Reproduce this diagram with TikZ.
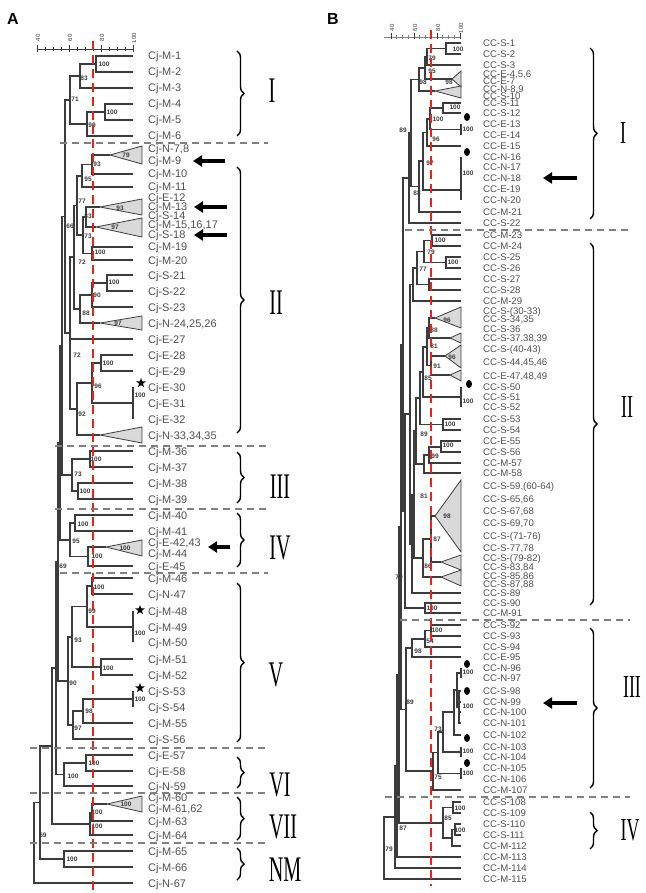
\documentclass[tikz,border=0pt]{standalone}
\usepackage{fontspec}
\setmainfont{Liberation Sans}
\newfontfamily\romanfont{Liberation Serif}
\usetikzlibrary{arrows.meta,decorations.pathreplacing,shapes.geometric}
\definecolor{branch}{HTML}{3C3C3C}
\definecolor{leafgray}{HTML}{505050}
\definecolor{cutred}{HTML}{E8231C}
\definecolor{sepgray}{HTML}{808080}
\definecolor{trifill}{HTML}{D9D9D9}

\begin{document}
\begin{tikzpicture}[x=1pt,y=-1pt,
    br/.style={draw=branch, line width=1.1pt},
    tri/.style={fill=trifill, draw=branch, line width=0.8pt},
    leafA/.style={anchor=base west, inner sep=0pt, yshift=-4pt, text=leafgray, font=\fontsize{11}{11}\selectfont},
    leafB/.style={anchor=base west, inner sep=0pt, yshift=-3.4pt, text=leafgray, font=\fontsize{9.6}{9.6}\selectfont},
    boot/.style={inner sep=0pt, text=branch, font=\bfseries\fontsize{6.5}{6.5}\selectfont},
    cut/.style={draw=cutred, line width=1.7pt, dash pattern=on 9pt off 5pt},
    sep/.style={draw=sepgray, line width=2.6pt, dash pattern=on 7pt off 5pt},
    brc/.style={draw=black, line width=1.4pt, decorate, decoration={brace, amplitude=7pt}},
    numA/.style={inner sep=0pt, font=\romanfont\fontsize{36}{36}\selectfont},
    numB/.style={inner sep=0pt, font=\romanfont\fontsize{32}{32}\selectfont},
    bigarrow/.style={line width=3.2pt, -{Triangle[length=9pt,width=11pt]}},
    starmark/.style={star, star points=5, star point ratio=2.4, fill=black, minimum size=10pt, inner sep=0pt},
    dotmark/.style={ellipse, fill=black, minimum width=6pt, minimum height=8pt, inner sep=0pt},
    tick/.style={inner sep=0pt, rotate=90, font=\fontsize{6}{6}\selectfont, text=branch}]

    \useasboundingbox[fill=white] (0,0) rectangle (645,893);

    % panel letters
    \node[font=\bfseries\fontsize{16}{16}\selectfont] (pA) at (13,19) {A};
    \node[font=\bfseries\fontsize{16}{16}\selectfont] (pB) at (333,19) {B};

    % scale bars
    \foreach \v in {0,...,12}
        \draw[branch, line width=0.6pt] ({37+8*\v},47) -- ({37+8*\v},51);
    \draw[branch, line width=0.8pt] (37,49) -- (133,49);
    \foreach \v/\t in {0/40,1/60,2/80,3/100} {
        \draw[branch, line width=0.8pt] ({37+32*\v},45) -- ({37+32*\v},52);
        \node[tick] (tA\t) at ({38+32*\v},38) {\t};
    }
    \foreach \v in {0,...,12}
        \draw[sepgray, line width=0.6pt] ({391+5.75*\v},35) -- ({391+5.75*\v},39);
    \draw[sepgray, line width=0.8pt] (384,37) -- (461,37);
    \foreach \v/\t in {0/40,1/60,2/80,3/100} {
        \draw[branch, line width=0.8pt] ({391+23*\v},33) -- ({391+23*\v},39);
        \node[tick] (tB\t) at ({392+23*\v},28) {\t};
    }

    % ---------------- panel A ----------------
    \foreach \y/\t [count=\i] in {56/Cj-M-1, 72/Cj-M-2, 88/Cj-M-3, 104/Cj-M-4, 120/Cj-M-5, 136/Cj-M-6,
        149/{Cj-N-7,8}, 161/Cj-M-9, 174/Cj-M-10, 187/Cj-M-11, 198/Cj-E-12, 207/Cj-M-13, 215/Cj-S-14,
        225/{Cj-M-15,16,17}, 235/Cj-S-18, 247/Cj-M-19, 260/Cj-M-20, 275/Cj-S-21, 291/Cj-S-22, 307/Cj-S-23,
        323/{Cj-N-24,25,26}, 339/Cj-E-27, 355/Cj-E-28, 371/Cj-E-29, 387/Cj-E-30, 403/Cj-E-31, 419/Cj-E-32,
        435/{Cj-N-33,34,35}, 451/Cj-M-36, 467/Cj-M-37, 483/Cj-M-38, 499/Cj-M-39, 515/Cj-M-40, 531/Cj-M-41,
        542/{Cj-E-42,43}, 553/Cj-M-44, 566/Cj-E-45, 578/Cj-M-46, 594/Cj-N-47, 611/Cj-M-48, 627/Cj-M-49,
        642/Cj-M-50, 659/Cj-M-51, 675/Cj-M-52, 691/Cj-S-53, 707/Cj-S-54, 723/Cj-M-55, 739/Cj-S-56,
        755/Cj-E-57, 771/Cj-E-58, 786/Cj-N-59, 797/Cj-M-60, 808/{Cj-M-61,62}, 821/Cj-M-63, 835/Cj-M-64,
        851/Cj-M-65, 867/Cj-M-66, 883/Cj-N-67} {
        \node[leafA] (la\i) at (148,\y) {\t};
        \coordinate (ae\i) at (133,\y);
    }

    % inner nodes A
    \coordinate (a100a) at (96,64);    \coordinate (a83) at (80,76);
    \coordinate (a100b) at (105,112);  \coordinate (a99) at (87,124);
    \coordinate (a71) at (70,100);
    \coordinate (a93) at (92,164.5);   \coordinate (a95) at (82,176);
    \coordinate (a83b) at (86,217);    \coordinate (a100c) at (92,253.5);
    \coordinate (a73) at (83,235);     \coordinate (a77) at (77,205.5);
    \coordinate (a100d) at (107,283);  \coordinate (a90) at (92,295);
    \coordinate (a88) at (80,309);     \coordinate (a72a) at (74,257);
    \coordinate (a100e) at (101,363);  \coordinate (a100f) at (133,403);
    \coordinate (a96) at (92,383);     \coordinate (a92) at (77,409);
    \coordinate (a72b) at (70,333);    \coordinate (a66) at (65,216.5);
    \coordinate (a100g) at (90,459);   \coordinate (a100h) at (78,491);
    \coordinate (a73b) at (72,475);
    \coordinate (a100i) at (75,523);   \coordinate (a100j) at (88,556.5);
    \coordinate (a95b) at (70,540);
    \coordinate (a100k) at (92,586);   \coordinate (a100l) at (133,627);
    \coordinate (a99b) at (87,606.5);  \coordinate (a100m) at (101,667);
    \coordinate (a93b) at (72,637);    \coordinate (a100n) at (133,699);
    \coordinate (a98) at (83,711);     \coordinate (a97) at (73,725);
    \coordinate (a90b) at (68,681);
    \coordinate (a100o) at (86,763);   \coordinate (a100p) at (64,774.5);
    \coordinate (a100q) at (92,812.5); \coordinate (a100r) at (90,824);
    \coordinate (a100s) at (64,859);
    \coordinate (aL2) at (62,346);     \coordinate (aL3) at (60,443);
    \coordinate (aL4) at (58,562);     \coordinate (aL5) at (56,668);
    \coordinate (aL6) at (52,746);     \coordinate (aL7) at (40,802.5);
    \coordinate (aroot) at (34,843);

    % collapsed clades A
    \foreach \n/\ax/\ay/\ty/\by in {tA7/110/155/146/164, tA12/100/207/199/215, tA15/96/227/218/237,
        tA24/100/323/316/330, tA33/100/435/427/443, tA42/106/547/540/556, tA60/107/804/796/812} {
        \coordinate (\n) at (\ax,\ay);
        \filldraw[tri] (\n) -- (142,\ty) -- (142,\by) -- cycle;
    }

    \foreach \c/\p in {ae1/a100a, ae2/a100a, a100a/a83, ae3/a83, ae4/a100b, ae5/a100b, a100b/a99, ae6/a99,
        a83/a71, a99/a71, tA7/a93, ae9/a93, a93/a95, ae10/a95, tA12/a83b, tA15/a83b, ae16/a100c, ae17/a100c,
        a83b/a73, a100c/a73, a95/a77, a73/a77, ae18/a100d, ae19/a100d, a100d/a90, ae20/a90, a90/a88, tA24/a88,
        a77/a72a, a88/a72a, ae23/a100e, ae24/a100e, ae25/a100f, ae26/a100f, ae27/a100f, a100e/a96, a100f/a96,
        a96/a92, tA33/a92, a72a/a72b, ae22/a72b, a92/a72b, a71/a66, a72b/a66,
        ae29/a100g, ae30/a100g, ae31/a100h, ae32/a100h, a100g/a73b, a100h/a73b,
        ae33/a100i, ae34/a100i, tA42/a100j, ae37/a100j, a100i/a95b, a100j/a95b,
        ae38/a100k, ae39/a100k, ae40/a100l, ae41/a100l, ae42/a100l, a100k/a99b, a100l/a99b, ae43/a100m,
        ae44/a100m, a99b/a93b, a100m/a93b, ae45/a100n, ae46/a100n, a100n/a98, ae47/a98, a98/a97, ae48/a97,
        a93b/a90b, a97/a90b, ae49/a100o, ae50/a100o, a100o/a100p, ae51/a100p,
        tA60/a100q, ae54/a100q, a100q/a100r, ae55/a100r, ae56/a100s, ae57/a100s,
        a66/aL2, a73b/aL2, aL2/aL3, a95b/aL3, aL3/aL4, a90b/aL4, aL4/aL5, a100p/aL5, aL5/aL6, a100r/aL6,
        aL6/aL7, a100s/aL7, aL7/aroot, ae58/aroot}
        \draw[br] (\c) -| (\p);

    % bootstrap values A
    \foreach \x/\y/\t [count=\i] in {104/64/100, 84/78/83, 75/99/71, 112/112/100, 92/125/99, 126/155/79,
        97/164/93, 88/179/95, 82/201/77, 120/208/93, 88/216/83, 70/226/66, 115/227/97, 88/236/73,
        100/252/100, 82/262/72, 114/282/100, 97/295/90, 86/313/88, 118/323/97, 77/355/72, 108/363/100,
        98/386/96, 140/395/100, 82/414/92, 96/459/100, 78/474/73, 85/491/100, 83/524/100, 76/541/95,
        125/548/100, 97/556/100, 63/566/69, 99/587/100, 92/611/99, 140/633/100, 78/640/93, 108/668/100,
        73/683/90, 140/699/100, 89/711/98, 78/728/97, 94/763/100, 73/776/100, 126/804/100, 97/812/100,
        97/826/100, 43/835/69, 72/859/100}
        \node[boot] (bsA\i) at (\x,\y) {\t};

    % ---------------- panel B ----------------
    \foreach \y/\t [count=\i] in {43/CC-S-1, 54/CC-S-2, 65/CC-S-3, 74/{CC-E-4,5,6}, 81/CC-E-7, 89/{CC-N-8,9},
        96/CC-S-10, 103/CC-S-11, 113/CC-S-12, 124/CC-E-13, 135/CC-E-14, 146/CC-E-15, 157/CC-N-16,
        167/CC-N-17, 178/CC-N-18, 189/CC-E-19, 200/CC-N-20, 212/CC-M-21, 223/CC-S-22, 235/CC-M-23,
        246/CC-M-24, 257/CC-S-25, 268/CC-S-26, 279/CC-S-27, 290/CC-S-28, 301/CC-M-29, 311/{CC-S-(30-33)},
        319/{CC-S-34,35}, 329/CC-S-36, 338/{CC-S-37,38,39}, 349/{CC-S-(40-43)}, 362/{CC-S-44,45,46},
        376/{CC-E-47,48,49}, 387/CC-S-50, 397/CC-S-51, 407/CC-S-52, 419/CC-S-53, 430/CC-S-54, 441/CC-E-55,
        452/CC-S-56, 463/CC-M-57, 473/CC-M-58, 486/{CC-S-59,(60-64)}, 499/{CC-S-65,66}, 511/{CC-S-67,68},
        523/{CC-S-69,70}, 536/{CC-S-(71-76)}, 548/{CC-S-77,78}, 558/{CC-S-(79-82)}, 567/{CC-S-83,84},
        576/{CC-S-85,86}, 584/{CC-S-87,88}, 593/CC-S-89, 603/CC-S-90, 613/CC-M-91, 625/CC-S-92,
        636/CC-S-93, 647/CC-S-94, 657/CC-E-95, 668/CC-N-96, 678/CC-N-97, 691/CC-S-98, 702/CC-N-99,
        712/CC-N-100, 723/CC-N-101, 735/CC-N-102, 747/CC-N-103, 757/CC-N-104, 768/CC-N-105, 779/CC-N-106,
        790/CC-M-107, 802/CC-S-108, 813/CC-S-109, 824/CC-S-110, 835/CC-S-111, 846/CC-M-112, 857/CC-M-113,
        868/CC-M-114, 879/CC-M-115} {
        \node[leafB] (lb\i) at (483,\y) {\t};
        \coordinate (be\i) at (461,\y);
    }

    % inner nodes B
    \coordinate (b100a) at (446,48.5); \coordinate (b79) at (427,57);
    \coordinate (b95) at (425,68);     \coordinate (b98) at (419,79.5);
    \coordinate (b100b) at (443,108);  \coordinate (b100c) at (461,129.5);
    \coordinate (b100d) at (430,119);  \coordinate (b96) at (427,132.5);
    \coordinate (b100e) at (461,190);  \coordinate (b97) at (423,161);
    \coordinate (b88) at (419,186.5);  \coordinate (b89) at (411,133);
    \coordinate (bL1) at (409,178);
    \coordinate (b100f) at (432,240.5); \coordinate (b100g) at (446,262.5);
    \coordinate (b79b) at (424,251.5); \coordinate (b27) at (429,284.5);
    \coordinate (b77) at (417,268);    \coordinate (bM29) at (413,284.5);
    \coordinate (b88b) at (429,328);   \coordinate (b91) at (431,365.5);
    \coordinate (b81) at (427,347);    \coordinate (b100h) at (461,397);
    \coordinate (b85) at (423,372);    \coordinate (b100i) at (443,424.5);
    \coordinate (b89b) at (420,398);   \coordinate (b100j) at (441,447);
    \coordinate (b99) at (429,455);    \coordinate (bM58) at (424,464);
    \coordinate (b87) at (431,539);    \coordinate (b86) at (423,558);
    \coordinate (bA1) at (416,431);    \coordinate (bA2) at (414,494.5);
    \coordinate (bA3) at (412,544);    \coordinate (bA4) at (410,414);
    \coordinate (b100k) at (425,608);  \coordinate (bA5) at (405,511);
    \coordinate (b100l) at (431,630.5); \coordinate (b54) at (425,639);
    \coordinate (b98c) at (412,648);   \coordinate (b100m) at (461,673);
    \coordinate (b100n) at (459,707);  \coordinate (bA) at (457,690);
    \coordinate (bB) at (454,712);     \coordinate (b100o) at (461,752);
    \coordinate (b73) at (443,732);    \coordinate (b100p) at (461,773.5);
    \coordinate (bC) at (438,752.5);   \coordinate (b75) at (433,771);
    \coordinate (bIII) at (406,709.5);
    \coordinate (b100q) at (453,807.5); \coordinate (b100r) at (455,829.5);
    \coordinate (bM112) at (452,838);  \coordinate (b85b) at (443,823);
    \coordinate (bT1) at (403,344.5);  \coordinate (bT2) at (401,527);
    \coordinate (bT3) at (399,675);    \coordinate (bT4) at (397,766);
    \coordinate (bT5) at (395,817);    \coordinate (broot) at (384,848);

    % collapsed clades B
    \foreach \n/\ax/\ay/\ty/\by in {tB4/452/79/71/87, tB8/435/91/86/98, tB30/435/318/307/328,
        tB37/450/338/333/343, tB40/445/356/345/368, tB47/450/375/370/381, tB59/435/516/480/552,
        tB79/441/562/555/570, tB85/441/577/570/586} {
        \coordinate (\n) at (\ax,\ay);
        \filldraw[tri] (\n) -- (461,\ty) -- (461,\by) -- cycle;
    }

    \foreach \c/\p in {be1/b100a, be2/b100a, b100a/b79, be3/b79, b79/b95, tB4/b95, b95/b98, tB8/b98,
        be8/b100b, be9/b100b, be10/b100c, be11/b100c, b100b/b100d, b100c/b100d, b100d/b96, be12/b96,
        be13/b100e, be14/b100e, be15/b100e, be16/b100e, be17/b100e, b96/b97, b100e/b97, b97/b88, be18/b88,
        b98/b89, b88/b89, b89/bL1, be19/bL1,
        be20/b100f, be21/b100f, be22/b100g, be23/b100g, b100f/b79b, b100g/b79b, be24/b27, be25/b27,
        b79b/b77, b27/b77, b77/bM29, be26/bM29,
        tB30/b88b, tB37/b88b, tB40/b91, tB47/b91, b88b/b81, b91/b81, be34/b100h, be35/b100h, be36/b100h,
        b81/b85, b100h/b85, be37/b100i, be38/b100i, b85/b89b, b100i/b89b, be39/b100j, be40/b100j,
        b100j/b99, be41/b99, b99/bM58, be42/bM58, tB59/b87, tB79/b87, b87/b86, tB85/b86,
        b89b/bA1, bM58/bA1, bA1/bA2, b86/bA2, bA2/bA3, be53/bA3, bM29/bA4, bA3/bA4,
        be54/b100k, be55/b100k, bA4/bA5, b100k/bA5,
        be56/b100l, be57/b100l, b100l/b54, be58/b54, b54/b98c, be59/b98c, be60/b100m, be61/b100m,
        be62/b100n, be63/b100n, be64/b100n, be65/b100n, b100m/bA, b100n/bA, bA/bB, be66/bB,
        be67/b100o, be68/b100o, bB/b73, b100o/b73, be69/b100p, be70/b100p, b73/bC, b100p/bC,
        bC/b75, be71/b75, b98c/bIII, b75/bIII,
        be72/b100q, be73/b100q, be74/b100r, be75/b100r, b100r/bM112, be76/bM112, b100q/b85b, bM112/b85b,
        bL1/bT1, bA5/bT1, bT1/bT2, bIII/bT2, bT2/bT3, b85b/bT3, bT3/bT4, be77/bT4, bT4/bT5, be78/bT5,
        bT5/broot, be79/broot}
        \draw[br] (\c) -| (\p);

    % bootstrap values B
    \foreach \x/\y/\t [count=\i] in {458/49/100, 432/58/79, 432/71/95, 449/82/98, 423/82/98, 455/107/100,
        438/119/100, 468/129/100, 436/139/96, 403/130/89, 430/163/97, 468/173/100, 417/193/88,
        440/240/100, 431/252/79, 453/262/100, 423/269/77, 447/320/96, 434/330/88, 434/346/81, 452/357/96,
        437/366/91, 428/378/85, 468/401/100, 450/424/100, 424/434/89, 448/445/100, 435/456/99, 424/496/81,
        447/516/98, 437/539/87, 428/566/86, 399/577/79, 432/608/100, 437/630/100, 430/641/54, 418/651/98,
        468/672/100, 410/702/89, 468/706/100, 438/729/73, 468/751/100, 468/773/100, 438/777/75,
        460/808/100, 448/818/85, 403/828/87, 460/830/100, 389/849/79}
        \node[boot] (bsB\i) at (\x,\y) {\t};

    % cut-off lines
    \coordinate (cutAt) at (93,41);   \coordinate (cutAb) at (93,893);
    \coordinate (cutBt) at (431,30);  \coordinate (cutBb) at (431,886);
    \draw[cut] (cutAt) -- (cutAb);
    \draw[cut] (cutBt) -- (cutBb);

    % group separators
    \foreach \y/\xa in {143/60, 446/55, 509/55, 573/60, 748/30, 793/30, 843/30}
        \draw[sep] (\xa,\y) -- (268,\y);
    \foreach \y/\xa in {230/405, 620/400, 797/385}
        \draw[sep] (\xa,\y) -- (630,\y);

    % braces and group names A
    \foreach \ta/\tb in {51/136, 167/433, 452/503, 513/567, 583/742, 757/788, 797/840, 848/880}
        \draw[brc] (237,\ta) -- (237,\tb);
    \node[numA] (gAI) at (272,91) {\scalebox{0.56}[1]{I}};
    \node[numA] (gAII) at (276,303) {\scalebox{0.56}[1]{II}};
    \node[numA] (gAIII) at (280,487) {\scalebox{0.56}[1]{III}};
    \node[numA] (gAIV) at (280,548) {\scalebox{0.56}[1]{IV}};
    \node[numA] (gAV) at (276,675) {\scalebox{0.56}[1]{V}};
    \node[numA] (gAVI) at (280,785) {\scalebox{0.56}[1]{VI}};
    \node[numA] (gAVII) at (283,827) {\scalebox{0.56}[1]{VII}};
    \node[numA] (gANM) at (285,870) {\scalebox{0.56}[1]{NM}};

    % braces and group names B
    \foreach \ta/\tb in {48/219, 243/605, 628/788, 812/849}
        \draw[brc] (590,\ta) -- (590,\tb);
    \node[numB] (gBI) at (623,133) {\scalebox{0.56}[1]{I}};
    \node[numB] (gBII) at (627,407) {\scalebox{0.56}[1]{II}};
    \node[numB] (gBIII) at (632,687) {\scalebox{0.56}[1]{III}};
    \node[numB] (gBIV) at (630,830) {\scalebox{0.56}[1]{IV}};

    % arrows
    \foreach \n/\xs/\xe/\y in {arA1/225/193/161, arA2/227/194/207, arA3/227/194/235, arA4/230/208/547,
        arB1/577/543/178, arB2/577/543/703} {
        \coordinate (\n s) at (\xs,\y);
        \coordinate (\n e) at (\xe,\y);
        \draw[bigarrow] (\n s) -- (\n e);
    }

    % stars and dots
    \node[starmark] (stA1) at (141,383) {};
    \node[starmark] (stA2) at (140,610) {};
    \node[starmark] (stA3) at (140,688) {};
    \foreach \x/\y [count=\i] in {467/117, 467/152, 469/384, 467/664, 467/691, 467/738, 467/763}
        \node[dotmark] (dtB\i) at (\x,\y) {};
\end{tikzpicture}
\end{document}
